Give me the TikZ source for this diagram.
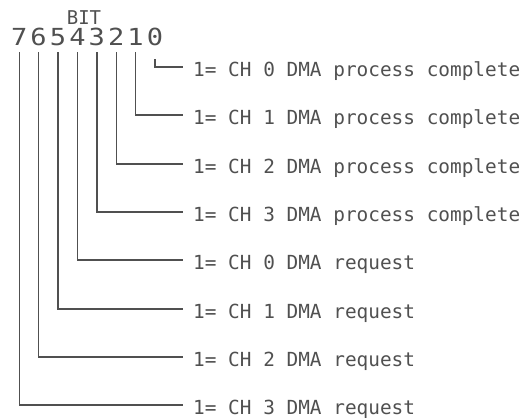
\documentclass[tikz,border=0pt]{standalone}
\usepackage{fontspec}
\newfontfamily\monofont{DejaVu Sans Mono}
\newfontfamily\widemono[FakeStretch=1.15]{DejaVu Sans Mono}
\usepackage{tikz}
\usetikzlibrary{positioning}
\definecolor{ink}{RGB}{80, 80, 80}

\begin{document}
\begin{tikzpicture}[
    x=1pt, y=-1pt,
    digit/.style={inner sep=0pt, inner ysep=6pt, text depth=0pt, anchor=south,
                  font=\widemono\fontsize{23.5}{23.5}\selectfont, text=ink},
    head/.style={inner sep=0pt, anchor=base, font=\monofont\fontsize{19}{19}\selectfont, text=ink},
    lbl/.style={inner ysep=0pt, inner xsep=10pt, text height=18pt, text depth=0pt,
                anchor=west, font=\monofont\fontsize{19.4}{19.4}\selectfont, text=ink},
    wire/.style={draw=ink, line width=1.4pt}
  ]
  \useasboundingbox (0,0) rectangle (523,418);

  % Nodes - bit numbers
  \node[head] (bit) at (84,24) {BIT};
  \node[digit] (b7) at (19.2,52) {7};
  \node[digit] (b6) at (38.6,52) {6};
  \node[digit] (b5) at (58.0,52) {5};
  \node[digit] (b4) at (77.4,52) {4};
  \node[digit] (b3) at (96.8,52) {3};
  \node[digit] (b2) at (116.2,52) {2};
  \node[digit] (b1) at (135.6,52) {1};
  \node[digit] (b0) at (155.0,52) {0};

  % Nodes - meanings
  \node[lbl] (l0) at (183,67)  {1= CH 0 DMA process complete};
  \node[lbl] (l1) at (183,115) {1= CH 1 DMA process complete};
  \node[lbl] (l2) at (183,164) {1= CH 2 DMA process complete};
  \node[lbl] (l3) at (183,212) {1= CH 3 DMA process complete};
  \node[lbl] (l4) at (183,260) {1= CH 0 DMA request};
  \node[lbl] (l5) at (183,309) {1= CH 1 DMA request};
  \node[lbl] (l6) at (183,357) {1= CH 2 DMA request};
  \node[lbl] (l7) at (183,405) {1= CH 3 DMA request};

  % Lines
  \draw[wire] ([yshift=-7pt]b0.south) |- (l0.west);
  \draw[wire] (b1.south) |- (l1.west);
  \draw[wire] (b2.south) |- (l2.west);
  \draw[wire] (b3.south) |- (l3.west);
  \draw[wire] (b4.south) |- (l4.west);
  \draw[wire] (b5.south) |- (l5.west);
  \draw[wire] (b6.south) |- (l6.west);
  \draw[wire] (b7.south) |- (l7.west);
\end{tikzpicture}
\end{document}
